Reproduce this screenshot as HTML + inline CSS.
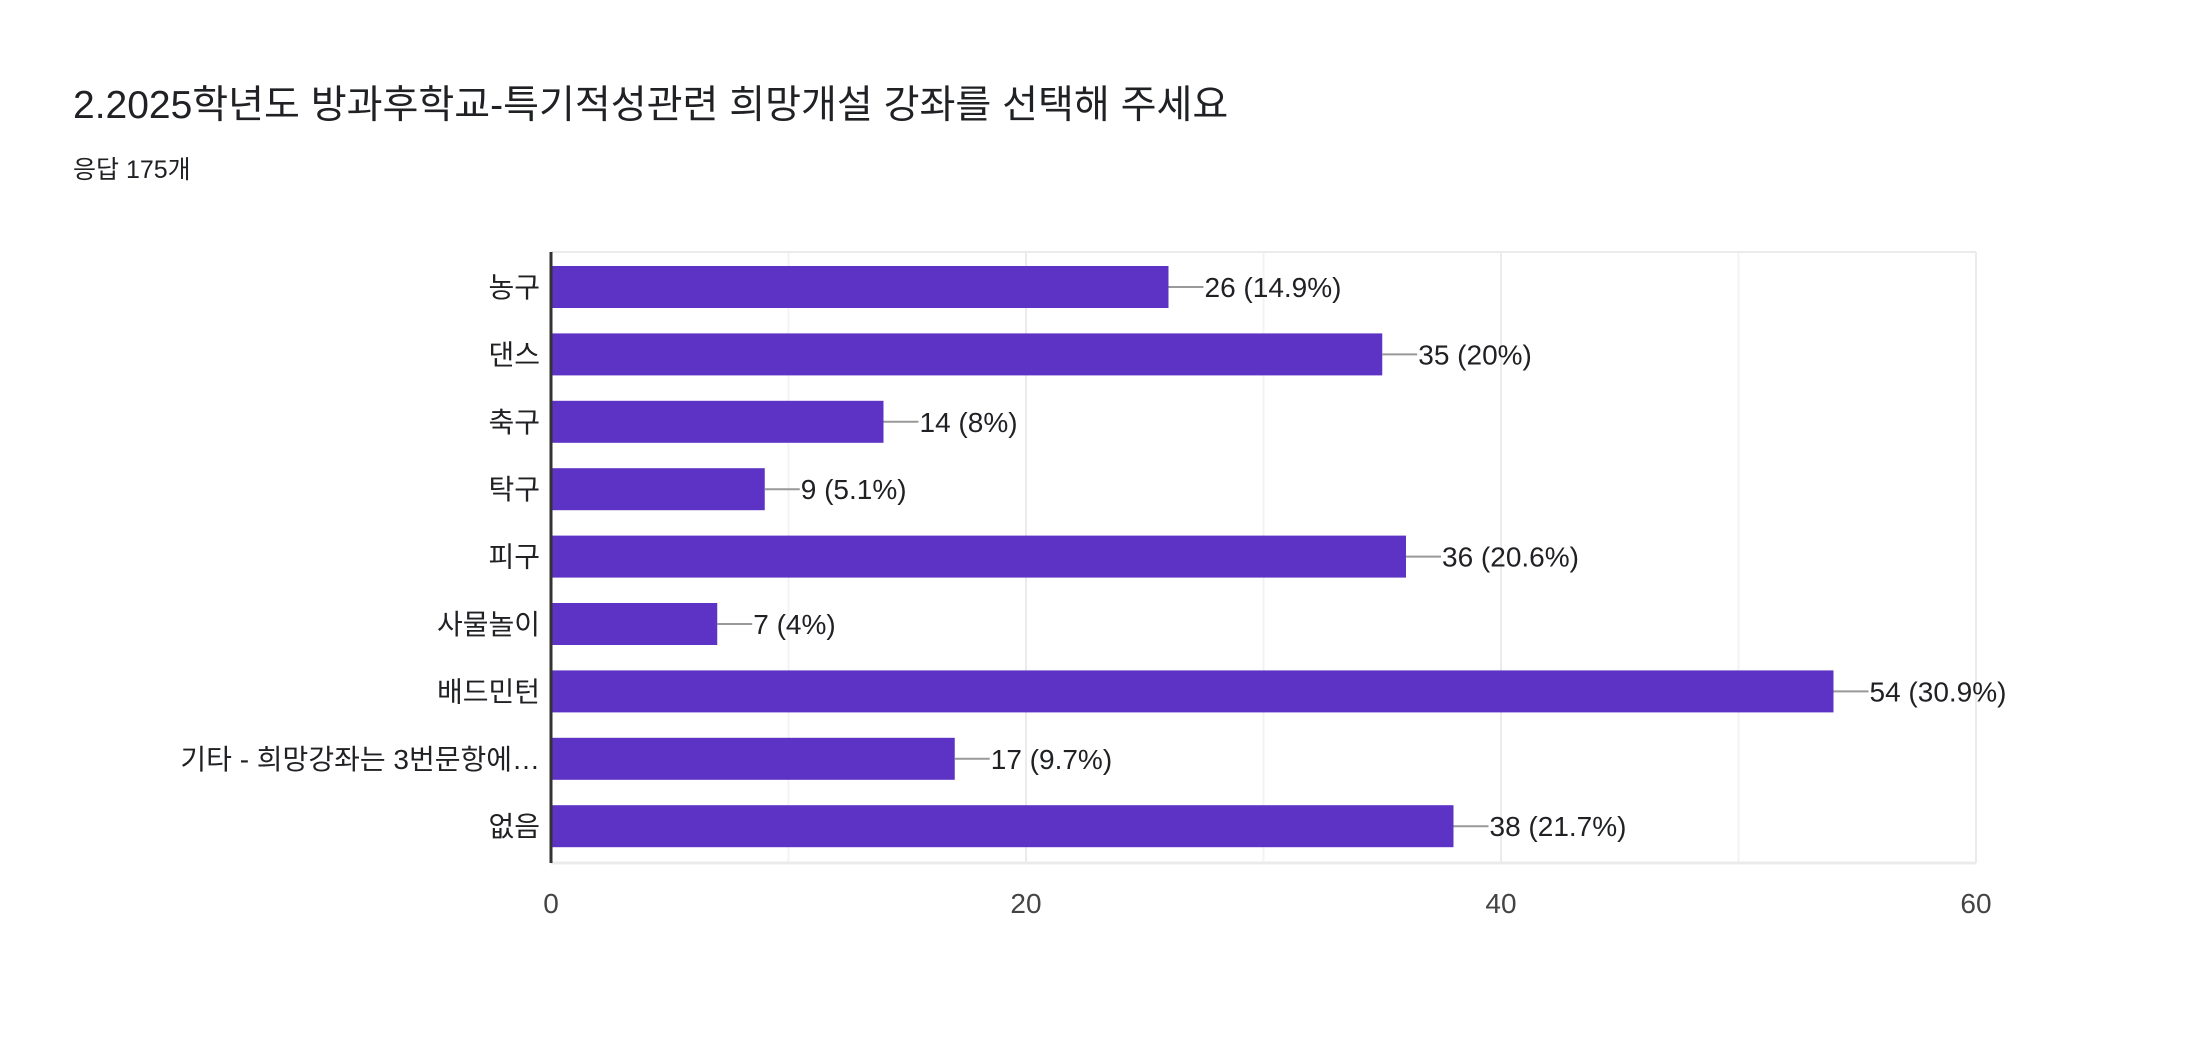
<!DOCTYPE html>
<html><head><meta charset="utf-8"><style>
body{margin:0;background:#fff;width:2196px;height:1044px;overflow:hidden;font-family:"Liberation Sans","Noto Sans CJK KR",sans-serif}
</style></head><body>
<svg width="2196" height="1044" xmlns="http://www.w3.org/2000/svg" id="svg" font-family="Liberation Sans, Noto Sans CJK KR, sans-serif">
<text x="73" y="118" font-size="39" fill="#202124">2.2025학년도 방과후학교-특기적성관련 희망개설 강좌를 선택해 주세요</text>
<text x="73" y="178" font-size="25" fill="#202124">응답 175개</text>
<g id="grid"></g><g id="bars"></g>
</svg>
<script>
const categories=["농구","댄스","축구","탁구","피구","사물놀이","배드민턴","기타 - 희망강좌는 3번문항에…","없음"];
const values=[26,35,14,9,36,7,54,17,38];
const labels=["26 (14.9%)","35 (20%)","14 (8%)","9 (5.1%)","36 (20.6%)","7 (4%)","54 (30.9%)","17 (9.7%)","38 (21.7%)"];
const ticks=[0,20,40,60];
const NS="http://www.w3.org/2000/svg";
const X0=551,X1=1976,MAX=60,TOP=252,BOT=863,STEP=67.4,FIRST=287,BH=42;
const x=v=>X0+(X1-X0)*v/MAX;
const y=i=>FIRST+i*STEP;
function mk(t,a,p){const e=document.createElementNS(NS,t);for(const k in a)e.setAttribute(k,a[k]);p.appendChild(e);return e;}
const g=document.getElementById('grid'),b=document.getElementById('bars');
for(let v=10;v<=MAX;v+=10){const l=mk('line',{x1:x(v),x2:x(v),y1:TOP,y2:BOT,stroke:v%20?'#f3f3f3':'#ebebeb','stroke-width':2},g);

}
const tl=mk('line',{x1:X0,x2:X1,y1:TOP,y2:TOP,stroke:'#ebebeb','stroke-width':2},g);


const bl=mk('line',{x1:X0,x2:X1,y1:BOT,y2:BOT,stroke:'#ebebeb','stroke-width':3},g);


ticks.forEach(t=>{const e=mk('text',{x:x(t),y:913,'font-size':28,fill:'#444','text-anchor':'middle'},g);e.textContent=t;

});
categories.forEach((c,i)=>{
const r=mk('rect',{x:X0,y:y(i)-BH/2,width:x(values[i])-X0,height:BH,fill:'#5c33c4'},b);


const ln=mk('line',{x1:x(values[i]),x2:x(values[i])+35,y1:y(i),y2:y(i),stroke:'#999','stroke-width':2},b);


const vt=mk('text',{x:x(values[i])+36,y:y(i)+10,'font-size':28,fill:'#202124'},b);vt.textContent=labels[i];


const ct=mk('text',{x:540,y:y(i)+10,'font-size':28,fill:'#202124','text-anchor':'end'},b);ct.textContent=c;

});
const ax=mk('line',{x1:X0,x2:X0,y1:TOP,y2:BOT,stroke:'#333','stroke-width':3},b);


</script>
</body></html>
